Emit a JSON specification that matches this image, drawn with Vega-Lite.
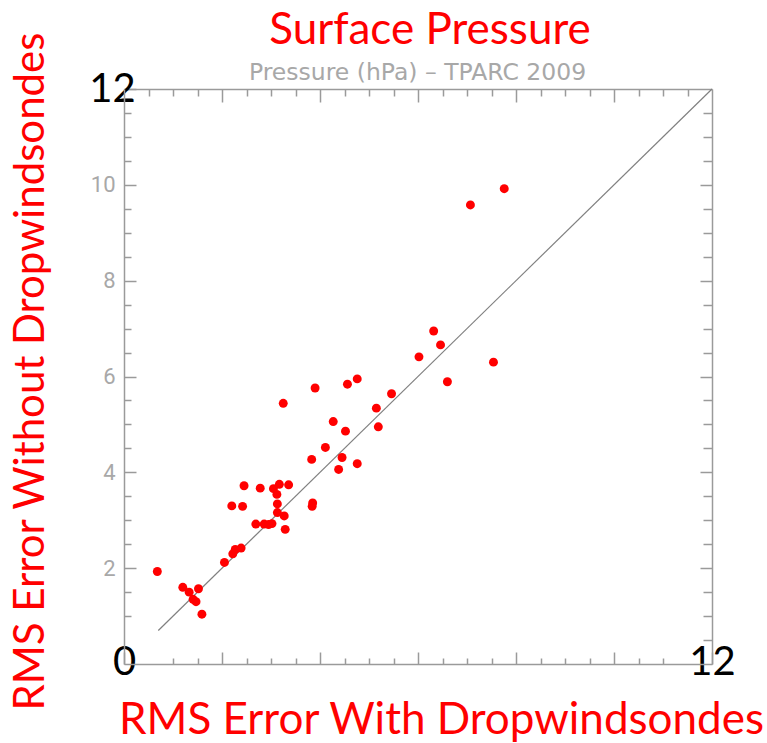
{
  "$schema": "https://vega.github.io/schema/vega-lite/v6.json",
  "width": 588,
  "height": 575,
  "autosize": "none",
  "padding": {"left": 124, "top": 89, "right": 55, "bottom": 79},
  "background": "white",
  "title": {
    "text": "Surface Pressure",
    "color": "#ff0000",
    "font": "Lato",
    "fontSize": 44,
    "fontWeight": "normal",
    "anchor": "middle",
    "frame": "group",
    "dx": 12,
    "offset": -57,
    "baseline": "alphabetic"
  },
  "config": {
    "view": {"stroke": null},
    "axis": {
      "grid": false,
      "domainColor": "#9a9a9a",
      "domainWidth": 1.5,
      "tickColor": "#9a9a9a",
      "tickWidth": 1.5,
      "labelOverlap": false,
      "labelFlush": false,
      "labelBound": false
    }
  },
  "datasets": {
    "points": [
      {"with": 0.68, "without": 1.93},
      {"with": 1.20, "without": 1.60},
      {"with": 1.33, "without": 1.50},
      {"with": 1.52, "without": 1.57},
      {"with": 1.41, "without": 1.35},
      {"with": 1.47, "without": 1.30},
      {"with": 1.59, "without": 1.04},
      {"with": 2.05, "without": 2.12},
      {"with": 2.22, "without": 2.30},
      {"with": 2.27, "without": 2.39},
      {"with": 2.39, "without": 2.42},
      {"with": 2.20, "without": 3.30},
      {"with": 2.42, "without": 3.29},
      {"with": 2.45, "without": 3.72},
      {"with": 2.78, "without": 3.67},
      {"with": 2.69, "without": 2.92},
      {"with": 2.86, "without": 2.92},
      {"with": 2.95, "without": 2.91},
      {"with": 3.02, "without": 2.93},
      {"with": 3.05, "without": 3.66},
      {"with": 3.17, "without": 3.75},
      {"with": 3.12, "without": 3.54},
      {"with": 3.13, "without": 3.34},
      {"with": 3.13, "without": 3.16},
      {"with": 3.27, "without": 3.09},
      {"with": 3.29, "without": 2.81},
      {"with": 3.36, "without": 3.74},
      {"with": 3.25, "without": 5.44},
      {"with": 3.85, "without": 3.36},
      {"with": 3.84, "without": 3.29},
      {"with": 3.83, "without": 4.27},
      {"with": 3.90, "without": 5.76},
      {"with": 4.11, "without": 4.52},
      {"with": 4.27, "without": 5.06},
      {"with": 4.52, "without": 4.86},
      {"with": 4.45, "without": 4.31},
      {"with": 4.38, "without": 4.06},
      {"with": 4.76, "without": 4.18},
      {"with": 4.56, "without": 5.84},
      {"with": 4.76, "without": 5.95},
      {"with": 5.15, "without": 5.34},
      {"with": 5.19, "without": 4.95},
      {"with": 5.46, "without": 5.64},
      {"with": 6.02, "without": 6.41},
      {"with": 6.32, "without": 6.95},
      {"with": 6.46, "without": 6.66},
      {"with": 6.60, "without": 5.89},
      {"with": 7.07, "without": 9.58},
      {"with": 7.76, "without": 9.92},
      {"with": 7.54, "without": 6.30}
    ],
    "diagonal": [
      {"with": 0.7, "without": 0.7},
      {"with": 12, "without": 12}
    ]
  },
  "layer": [
    {
      "data": {"name": "diagonal"},
      "mark": {"type": "line", "color": "#808080", "strokeWidth": 1.2},
      "encoding": {
        "x": {
          "field": "with",
          "type": "quantitative",
          "scale": {"domain": [0, 12], "nice": false, "zero": false},
          "axis": {
            "orient": "top",
            "values": [0.5, 1, 1.5, 2, 2.5, 3, 3.5, 4, 4.5, 5, 5.5, 6, 6.5, 7, 7.5, 8, 8.5, 9, 9.5, 10, 10.5, 11, 11.5],
            "labels": false,
            "tickSize": {"condition": {"test": "datum.value % 2 === 0", "value": -13}, "value": -7},
            "title": "Pressure (hPa) – TPARC 2009",
            "titleFont": "DejaVu Sans",
            "titleFontSize": 23.5,
            "titleFontWeight": "normal",
            "titleColor": "#a8a8a8",
            "titleX": 293,
            "titleY": -10,
            "titleAlign": "center",
            "titleBaseline": "alphabetic"
          }
        },
        "y": {
          "field": "without",
          "type": "quantitative",
          "scale": {"domain": [0, 12], "nice": false, "zero": false},
          "axis": {
            "orient": "right",
            "values": [0.5, 1, 1.5, 2, 2.5, 3, 3.5, 4, 4.5, 5, 5.5, 6, 6.5, 7, 7.5, 8, 8.5, 9, 9.5, 10, 10.5, 11, 11.5],
            "labels": false,
            "tickSize": {"condition": {"test": "datum.value % 2 === 0", "value": -12}, "value": -9},
            "title": null
          }
        }
      }
    },
    {
      "data": {"name": "points"},
      "mark": {"type": "circle", "color": "#ff0000", "opacity": 1, "size": 80},
      "encoding": {
        "x": {
          "field": "with",
          "type": "quantitative",
          "scale": {"domain": [0, 12], "nice": false, "zero": false},
          "axis": {
            "orient": "bottom",
            "values": [0, 1, 1.5, 2, 2.5, 3, 3.5, 4, 4.5, 5, 5.5, 6, 6.5, 7, 7.5, 8, 8.5, 9, 9.5, 10, 10.5, 11, 12],
            "labelExpr": "datum.value === 0 || datum.value === 12 ? format(datum.value, 'd') : ''",
            "tickSize": {"condition": {"test": "datum.value % 2 === 0", "value": -12}, "value": -6},
            "labelPadding": 10,
            "labelColor": "#000000",
            "labelFont": "Lato",
            "labelFontSize": 40,
            "labelBaseline": "middle",
            "title": "RMS Error With Dropwindsondes",
            "titleColor": "#ff0000",
            "titleFont": "Lato",
            "titleFontSize": 44,
            "titleFontWeight": "normal",
            "titleX": 317,
            "titleY": 69,
            "titleAlign": "center",
            "titleBaseline": "alphabetic"
          }
        },
        "y": {
          "field": "without",
          "type": "quantitative",
          "scale": {"domain": [0, 12], "nice": false, "zero": false},
          "axis": {
            "orient": "left",
            "values": [1, 1.5, 2, 2.5, 3, 3.5, 4, 4.5, 5, 5.5, 6, 6.5, 7, 7.5, 8, 8.5, 9, 9.5, 10, 10.5, 11, 11.5, 12],
            "labelExpr": "datum.value % 2 === 0 ? format(datum.value, 'd') : ''",
            "tickSize": {"condition": {"test": "datum.value % 2 === 0", "value": -12}, "value": -7},
            "labelPadding": {"condition": {"test": "datum.value === 12", "value": 24}, "value": 21},
            "labelColor": {"condition": {"test": "datum.value === 12", "value": "#000000"}, "value": "#a8a8a8"},
            "labelFont": {"condition": {"test": "datum.value === 12", "value": "Lato"}, "value": "Roboto"},
            "labelFontSize": {"condition": {"test": "datum.value === 12", "value": 40}, "value": 22},
            "labelAlign": {"condition": {"test": "datum.value === 12", "value": "center"}, "value": "right"},
            "labelBaseline": "middle",
            "title": "RMS Error Without Dropwindsondes",
            "titleColor": "#ff0000",
            "titleFont": "Lato",
            "titleFontSize": 42,
            "titleFontWeight": "normal",
            "titleAngle": -90,
            "titleX": -94,
            "titleY": 282,
            "titleAlign": "center",
            "titleBaseline": "middle"
          }
        }
      }
    }
  ],
  "resolve": {"axis": {"x": "independent", "y": "independent"}}
}
